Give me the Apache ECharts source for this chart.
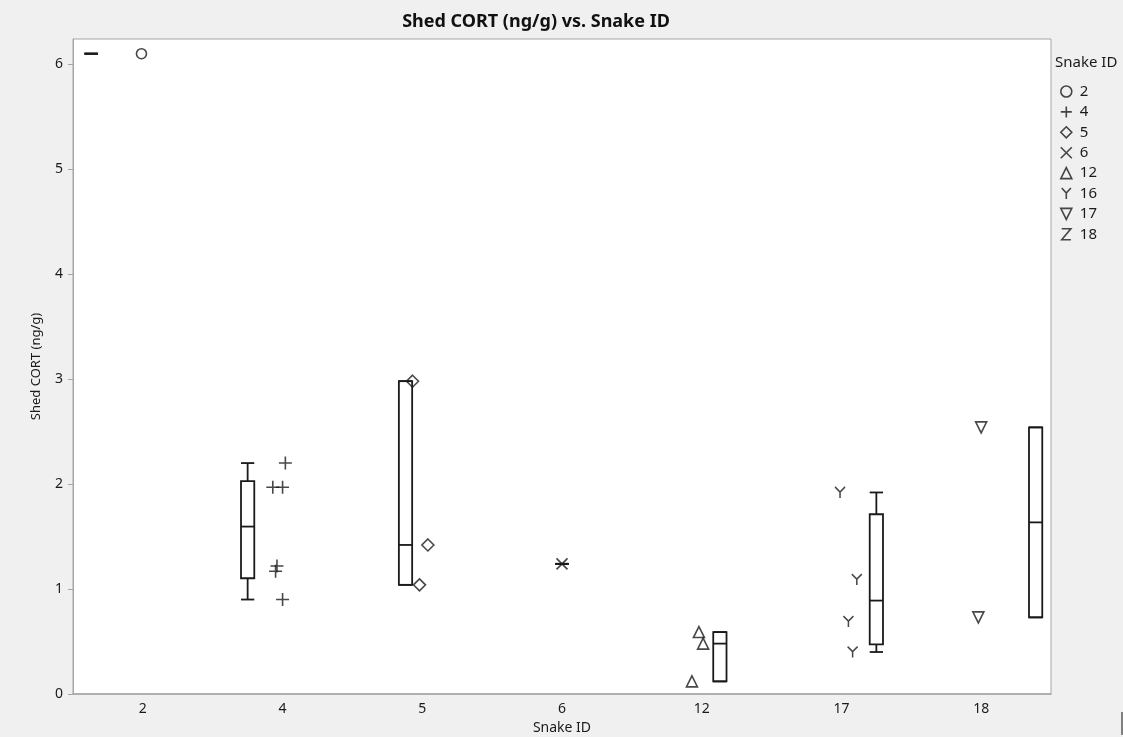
<!DOCTYPE html>
<html>
<head>
<meta charset="utf-8">
<title>Shed CORT (ng/g) vs. Snake ID</title>
<script src="https://cdn.jsdelivr.net/npm/echarts@6/dist/echarts.min.js"></script>
<style>
  html, body { margin: 0; padding: 0; background: #f0f0f0; }
  #chart { width: 1123px; height: 737px; }
</style>
</head>
<body>
<div id="chart"></div>
<script>
// x-axis categories, as they are labelled in the figure
const categories = ["2", "4", "5", "6", "12", "17", "18"];
const yTicks = [0, 1, 2, 3, 4, 5, 6];

// legend groups and the x slot each one is drawn in
const snakeIds = ["2", "4", "5", "6", "12", "16", "17", "18"];
const snakeSlot = [0, 1, 2, 3, 4, 5, 6, null];

// Shed CORT (ng/g) per snake
const cort2 = [6.1];
const cort4 = [2.2, 1.97, 1.97, 1.22, 1.17, 0.9];
const cort5 = [2.98, 1.42, 1.04];
const cort6 = [1.24];
const cort12 = [0.59, 0.48, 0.12];
const cort16 = [1.92, 1.09, 0.69, 0.4];
const cort17 = [2.54, 0.73];
const cort18 = [];
const cortValues = [cort2, cort4, cort5, cort6, cort12, cort16, cort17, cort18];

// layout: point jitter and box offset, in category widths
const jitter = [
  [-0.01],
  [0.02, -0.07, 0, -0.04, -0.05, 0],
  [-0.07, 0.04, -0.02],
  [0],
  [-0.02, 0.01, -0.07],
  [-0.01, 0.11, 0.05, 0.08],
  [0, -0.02],
  []
];
const boxShift = [-0.37, -0.25, -0.12, 0, 0.13, 0.25, 0.39];
const BOX_WIDTH = 0.095;

const INK = "#1a1a1a";
const FRAME = "#a6a6a6";
const FONT = "Noto Sans";

const markers = [
  { symbol: "circle", size: 10 },
  { symbol: "path://M0,6L12,6M6,0L6,12", size: 13 },
  { symbol: "diamond", size: 12 },
  { symbol: "path://M0,0L12,12M12,0L0,12", size: 11 },
  { symbol: "triangle", size: 11 },
  { symbol: "path://M0,0L5,5.5L10,0M5,5.5L5,12", size: [10, 11] },
  { symbol: "path://M0,0L10,0L5,10Z", size: 11 },
  { symbol: "path://M0,0L10,0L0,12L10,12", size: [9, 11] }
];

// JMP style quantile ((n+1)p)
function quantile(sorted, p) {
  const n = sorted.length;
  const pos = (n + 1) * p;
  if (pos <= 1) return sorted[0];
  if (pos >= n) return sorted[n - 1];
  const i = Math.floor(pos);
  return sorted[i - 1] + (pos - i) * (sorted[i] - sorted[i - 1]);
}

function boxStats(values) {
  const s = values.slice().sort((a, b) => a - b);
  const q1 = quantile(s, 0.25);
  const med = quantile(s, 0.5);
  const q3 = quantile(s, 0.75);
  const iqr = q3 - q1;
  const lo = Math.min(...s.filter((v) => v >= q1 - 1.5 * iqr));
  const hi = Math.max(...s.filter((v) => v <= q3 + 1.5 * iqr));
  return [lo, q1, med, q3, hi];
}

const boxData = [];
snakeIds.forEach((id, k) => {
  const slot = snakeSlot[k];
  if (slot === null || cortValues[k].length === 0) return;
  boxData.push([slot + boxShift[slot], ...boxStats(cortValues[k])]);
});

function renderBox(params, api) {
  const x = api.value(0);
  const half = api.size([BOX_WIDTH, 0])[0] / 2;
  const pts = [1, 2, 3, 4, 5].map((i) => api.coord([x, api.value(i)]));
  const cx = pts[0][0];
  const [yLo, yQ1, yMed, yQ3, yHi] = pts.map((p) => p[1]);
  const style = { stroke: INK, lineWidth: 1.8, fill: null };
  const line = (x1, y1, x2, y2) => ({
    type: "line",
    shape: { x1, y1, x2, y2 },
    style
  });
  return {
    type: "group",
    children: [
      {
        type: "rect",
        shape: { x: cx - half, y: yQ3, width: half * 2, height: yQ1 - yQ3 },
        style
      },
      line(cx - half, yMed, cx + half, yMed),
      line(cx, yQ3, cx, yHi),
      line(cx, yQ1, cx, yLo),
      line(cx - half, yHi, cx + half, yHi),
      line(cx - half, yLo, cx + half, yLo)
    ]
  };
}

const markerStyle = { color: "transparent", borderColor: INK, borderWidth: 1.6 };

const pointSeries = snakeIds.map((id, k) => {
  const slot = snakeSlot[k];
  const data =
    slot === null
      ? []
      : cortValues[k].map((v, j) => [slot + jitter[k][j], v]);
  return {
    name: id,
    type: "scatter",
    xAxisIndex: 1,
    yAxisIndex: 0,
    symbol: markers[k].symbol,
    symbolSize: markers[k].size,
    itemStyle: markerStyle,
    emphasis: { disabled: true },
    data,
    z: 3
  };
});

const chart = echarts.init(document.getElementById("chart"));

chart.setOption({
  backgroundColor: "#f0f0f0",
  animation: false,
  textStyle: { fontFamily: FONT },
  grid: {
    left: 73,
    right: 72,
    top: 39,
    bottom: 43,
    outerBoundsMode: "none",
    containLabel: false,
    show: true,
    backgroundColor: "#fff",
    borderColor: FRAME,
    borderWidth: 1
  },
  graphic: [
    {
      type: "text",
      x: 536,
      y: 22,
      style: {
        text: "Shed CORT (ng/g) vs. Snake ID",
        font: "bold 18px '" + FONT + "'",
        fill: "#111",
        align: "center",
        verticalAlign: "middle"
      }
    },
    {
      type: "text",
      x: 1055,
      y: 63,
      style: {
        text: "Snake ID",
        font: "15px '" + FONT + "'",
        fill: INK,
        verticalAlign: "middle"
      }
    },
    {
      type: "line",
      shape: { x1: 1122, y1: 712, x2: 1122, y2: 735 },
      style: { stroke: "#111", lineWidth: 1 }
    }
  ],
  legend: {
    orient: "vertical",
    left: 1060,
    top: 84,
    padding: 0,
    itemWidth: 11,
    itemHeight: 11,
    itemGap: 5.4,
    selectedMode: false,
    textStyle: {
      fontSize: 15,
      lineHeight: 14,
      color: INK,
      padding: [0, 0, 0, 3]
    },
    data: snakeIds.map((id, k) => ({
      name: id,
      icon: markers[k].symbol,
      itemStyle: markerStyle
    }))
  },
  xAxis: [
    {
      type: "category",
      data: categories,
      boundaryGap: true,
      name: "Snake ID",
      nameLocation: "middle",
      nameGap: 27,
      nameTextStyle: { fontSize: 14, color: INK },
      axisLine: { lineStyle: { color: FRAME, width: 1.5 } },
      axisTick: { show: false },
      axisLabel: { fontSize: 14, color: INK, margin: 8 },
      splitLine: { show: false }
    },
    {
      type: "value",
      min: -0.5,
      max: categories.length - 0.5,
      show: false
    }
  ],
  yAxis: {
    type: "value",
    min: 0,
    max: 6.24,
    name: "Shed CORT (ng/g)",
    nameLocation: "middle",
    nameGap: 30,
    nameTextStyle: { fontSize: 13, color: INK },
    axisLine: { show: true, onZero: false, lineStyle: { color: FRAME } },
    axisTick: {
      show: true,
      length: 5,
      customValues: yTicks,
      lineStyle: { color: FRAME }
    },
    axisLabel: {
      fontSize: 14,
      color: INK,
      margin: 10,
      customValues: yTicks
    },
    splitLine: { show: false }
  },
  series: [
    {
      name: "box",
      type: "custom",
      xAxisIndex: 1,
      yAxisIndex: 0,
      renderItem: renderBox,
      encode: { x: 0, y: [1, 2, 3, 4, 5] },
      data: boxData,
      silent: true,
      z: 2
    },
    ...pointSeries
  ]
});
</script>
</body>
</html>
